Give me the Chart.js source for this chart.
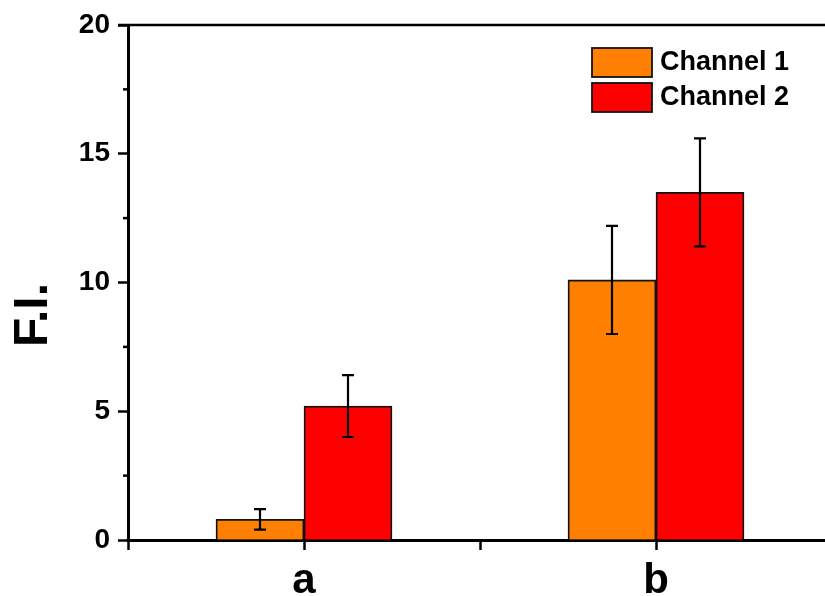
<!DOCTYPE html>
<html>
<head>
<meta charset="utf-8">
<script src="https://cdn.jsdelivr.net/npm/chart.js@4.4.0/dist/chart.umd.min.js"></script>
<style>
  html, body { margin: 0; padding: 0; background: #fff; overflow: hidden; }
  #wrap { width: 840px; height: 596px; }
</style>
</head>
<body>
<div id="wrap"><canvas id="fi"></canvas></div>
<script>
/* data */
const categories   = ['a', 'b'];
const catPositions = [1, 2];
const channel1     = [0.8, 10.1];
const channel1Err  = [0.4, 2.1];
const channel2     = [5.2, 13.5];
const channel2Err  = [1.2, 2.1];
const yLabel       = 'F.I.';

const FONT = "Arial, 'Liberation Sans', sans-serif";

/* error bars, top frame line, minor y ticks, legend and y title */
const decorations = {
  id: 'decorations',
  afterDatasetsDraw(chart) {
    const { ctx, scales: { y } } = chart;
    ctx.save();
    ctx.strokeStyle = '#000';
    ctx.lineWidth = 2.2;
    chart.data.datasets.forEach((ds, di) => {
      const meta = chart.getDatasetMeta(di);
      meta.data.forEach((bar, i) => {
        const v = ds.data[i].y, e = ds.errors[i];
        const yHi = y.getPixelForValue(v + e), yLo = y.getPixelForValue(v - e);
        ctx.beginPath();
        ctx.moveTo(bar.x, yHi); ctx.lineTo(bar.x, yLo);
        ctx.moveTo(bar.x - 6, yHi); ctx.lineTo(bar.x + 6, yHi);
        ctx.moveTo(bar.x - 6, yLo); ctx.lineTo(bar.x + 6, yLo);
        ctx.stroke();
      });
    });
    ctx.restore();
  },
  afterDraw(chart) {
    const { ctx, chartArea: ca, scales: { y } } = chart;
    ctx.save();
    // top frame
    ctx.strokeStyle = '#000';
    ctx.lineWidth = 2.5;
    ctx.beginPath();
    ctx.moveTo(ca.left - 10, ca.top);
    ctx.lineTo(ca.right, ca.top);
    ctx.stroke();
    // minor ticks on y
    y.ticks.forEach(t => {
      if (t.value % 5 === 0) return;
      const py = y.getPixelForValue(t.value);
      ctx.beginPath();
      ctx.moveTo(ca.left - 5, py);
      ctx.lineTo(ca.left, py);
      ctx.stroke();
    });
    // y title
    ctx.fillStyle = '#000';
    ctx.font = 'bold 48px ' + FONT;
    ctx.textAlign = 'center';
    ctx.textBaseline = 'middle';
    ctx.translate(34, 315);
    ctx.rotate(-Math.PI / 2);
    ctx.fillText(yLabel, 0, 0);
    ctx.restore();

    // legend
    ctx.save();
    ctx.font = 'bold 27px ' + FONT;
    ctx.textBaseline = 'middle';
    ctx.textAlign = 'left';
    chart.data.datasets.forEach((ds, i) => {
      const by = 48 + i * 35;
      ctx.fillStyle = ds.backgroundColor;
      ctx.fillRect(592, by, 60, 29);
      ctx.strokeStyle = '#111';
      ctx.lineWidth = 1.8;
      ctx.strokeRect(592, by, 60, 29);
      ctx.fillStyle = '#000';
      ctx.fillText(ds.label, 660, by + 15);
    });
    ctx.restore();
  }
};

const toPoints = vals => vals.map((v, i) => ({ x: catPositions[i], y: v }));

new Chart(document.getElementById('fi'), {
  type: 'bar',
  data: {
    datasets: [
      {
        label: 'Channel 1',
        data: toPoints(channel1),
        errors: channel1Err,
        backgroundColor: '#FF8000',
        borderColor: '#111',
        borderWidth: 1.8,
      },
      {
        label: 'Channel 2',
        data: toPoints(channel2),
        errors: channel2Err,
        backgroundColor: '#FF0000',
        borderColor: '#111',
        borderWidth: 1.8,
      },
    ],
  },
  options: {
    responsive: true,
    maintainAspectRatio: false,
    animation: false,
    // bar slots follow the 0.5 tick spacing, so two bars fill one full slot
    categoryPercentage: 1.0,
    barPercentage: 1.0,
    layout: { padding: { top: 25, right: 8, left: 0, bottom: 0 } },
    plugins: { legend: { display: false }, tooltip: { enabled: false } },
    scales: {
      x: {
        type: 'linear',
        min: 0.5, max: 2.5,
        offset: false,
        grid: { offset: false, drawOnChartArea: false, tickLength: 10, tickWidth: 2.5, tickColor: '#000' },
        border: { color: '#000', width: 3 },
        ticks: {
          stepSize: 0.5,
          autoSkip: false,
          maxRotation: 0,
          padding: 6,
          color: '#000',
          font: { family: FONT, size: 42, weight: 'bold' },
          callback: v => {
            const i = catPositions.indexOf(v);
            return i >= 0 ? categories[i] : '';
          },
        },
        afterFit: s => { s.height = 56; },
      },
      y: {
        min: 0, max: 20,
        grid: {
          drawOnChartArea: false,
          tickLength: 10,
          tickWidth: 2.5,
          tickColor: c => (c.tick && c.tick.value % 5 === 0 ? '#000' : 'rgba(0,0,0,0)'),
        },
        border: { color: '#000', width: 3 },
        ticks: {
          stepSize: 2.5,
          padding: 8,
          color: '#000',
          font: { family: FONT, size: 28, weight: 'bold' },
          callback: v => (v % 5 === 0 ? v : ''),
        },
        afterFit: s => { s.width = 128; },
      },
    },
  },
  plugins: [decorations],
});
</script>
</body>
</html>
